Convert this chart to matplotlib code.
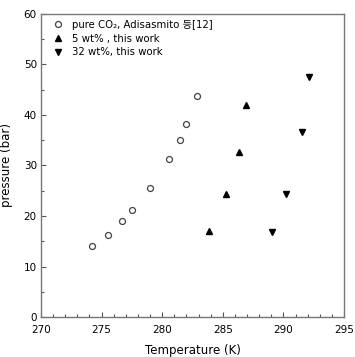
import matplotlib
matplotlib.use("Agg")
import matplotlib.pyplot as plt
from matplotlib.ticker import MultipleLocator

plt.rcParams['font.family'] = ['DejaVu Sans', 'Noto Sans CJK KR']

# pure CO2 (Adisasmito)
co2_T = [274.2, 275.5, 276.7, 277.5, 279.0, 280.6, 281.5, 282.0, 282.9]
co2_P = [14.1, 16.2, 19.0, 21.1, 25.5, 31.2, 35.1, 38.2, 43.8]

# 5 wt%
w5_T = [283.9, 285.3, 286.3, 286.9]
w5_P = [17.1, 24.3, 32.6, 42.0]

# 32 wt%
w32_T = [289.1, 290.2, 291.5, 292.1]
w32_P = [16.8, 24.3, 36.6, 47.5]

fig = plt.figure(figsize=(3.55, 3.57), dpi=100)
ax = fig.add_axes([0.1155, 0.112, 0.8535, 0.849])

ax.plot(co2_T, co2_P, 'o', ms=4.3, mfc='white', mec='#444444', mew=0.9,
        linestyle='none', label='pure CO\u2082, Adisasmito 등[12]')
ax.plot(w5_T, w5_P, '^', ms=5, color='black', linestyle='none',
        label='5 wt% , this work')
ax.plot(w32_T, w32_P, 'v', ms=5, color='black', linestyle='none',
        label='32 wt%, this work')

ax.set_xlim(270, 295)
ax.set_ylim(0, 60)
ax.xaxis.set_major_locator(MultipleLocator(5))
ax.xaxis.set_minor_locator(MultipleLocator(1))
ax.yaxis.set_major_locator(MultipleLocator(10))
ax.yaxis.set_minor_locator(MultipleLocator(5))
ax.tick_params(which='both', direction='in', top=False, right=False,
               colors='#555555', labelcolor='black', labelsize=7.5, width=0.8)
ax.tick_params(which='major', length=3.5, pad=3)
ax.tick_params(axis='x', which='major', pad=6)
ax.tick_params(which='minor', length=2)
for s in ax.spines.values():
    s.set_color('#777777')
    s.set_linewidth(1.0)

ax.set_xlabel('Temperature (K)', fontsize=8.5, labelpad=6)
ax.set_ylabel('pressure (bar)', fontsize=8.5, labelpad=8)

ax.legend(loc='upper left', frameon=False, fontsize=7.3, handlelength=1.0,
          handletextpad=0.9, labelspacing=0.35, borderaxespad=0.2,
          bbox_to_anchor=(0.02, 1.0))

fig.savefig('out.png', dpi=100)
